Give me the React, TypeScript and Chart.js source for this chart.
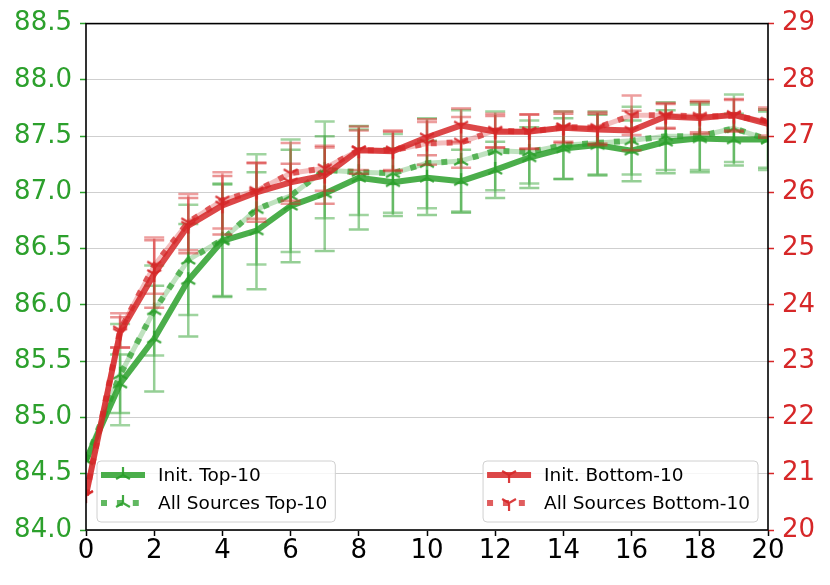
import React, { useEffect, useRef } from "react";
import { Chart, registerables } from "chart.js";
Chart.register(...registerables);

const xs = [0, 1, 2, 3, 4, 5, 6, 7, 8, 9, 10, 11, 12, 13, 14, 15, 16, 17, 18, 19, 20];
const xTicks = [0, 2, 4, 6, 8, 10, 12, 14, 16, 18, 20];

const initTop = [84.62, 85.30, 85.70, 86.22, 86.57, 86.66, 86.88, 86.99, 87.13, 87.09, 87.13, 87.10, 87.20, 87.31, 87.39, 87.42, 87.37, 87.45, 87.48, 87.47, 87.47];
const initTopErr = [0, 0.26, 0.47, 0.5, 0.5, 0.52, 0.5, 0.51, 0.46, 0.3, 0.33, 0.28, 0.25, 0.27, 0.27, 0.27, 0.27, 0.28, 0.3, 0.23, 0.25];
const allTop = [84.62, 85.38, 85.95, 86.40, 86.58, 86.85, 86.97, 87.20, 87.18, 87.17, 87.26, 87.28, 87.37, 87.36, 87.42, 87.44, 87.46, 87.50, 87.50, 87.57, 87.47];
const allTopErr = [0, 0.45, 0.4, 0.49, 0.5, 0.49, 0.5, 0.43, 0.38, 0.35, 0.4, 0.45, 0.35, 0.28, 0.3, 0.28, 0.3, 0.3, 0.3, 0.3, 0.27];
const initBot = [20.62, 23.51, 24.55, 25.41, 25.77, 26.0, 26.18, 26.30, 26.75, 26.73, 26.98, 27.19, 27.08, 27.08, 27.15, 27.12, 27.1, 27.35, 27.32, 27.38, 27.22];
const initBotErr = [0, 0.27, 0.6, 0.49, 0.52, 0.52, 0.33, 0.5, 0.42, 0.35, 0.32, 0.3, 0.28, 0.31, 0.25, 0.28, 0.35, 0.22, 0.28, 0.28, 0.25];
const allBot = [20.62, 23.55, 24.7, 25.47, 25.86, 26.03, 26.34, 26.43, 26.75, 26.75, 26.87, 26.89, 27.1, 27.08, 27.16, 27.15, 27.37, 27.37, 27.35, 27.36, 27.26];
const allBotErr = [0, 0.3, 0.5, 0.5, 0.5, 0.5, 0.54, 0.4, 0.35, 0.35, 0.38, 0.45, 0.3, 0.3, 0.28, 0.28, 0.35, 0.22, 0.28, 0.28, 0.25];

const leftTicks = [84.0, 84.5, 85.0, 85.5, 86.0, 86.5, 87.0, 87.5, 88.0, 88.5];
const rightTicks = [20, 21, 22, 23, 24, 25, 26, 27, 28, 29];

const legendLeft = ["Init. Top-10", "All Sources Top-10"];
const legendRight = ["Init. Bottom-10", "All Sources Bottom-10"];

const GREEN = "44,160,44";
const RED = "214,39,40";
const FONT = "'DejaVu Sans', sans-serif";
const LW = 6;
const DASH = [6, 9.9];

function drawTri(ctx: CanvasRenderingContext2D, cx: number, cy: number, down: boolean, color: string) {
  const r = 8;
  const c = Math.cos(Math.PI / 6) * r;
  const s = Math.sin(Math.PI / 6) * r;
  ctx.save();
  ctx.strokeStyle = color;
  ctx.lineWidth = 2.2;
  ctx.setLineDash([]);
  ctx.beginPath();
  if (!down) {
    ctx.moveTo(cx, cy); ctx.lineTo(cx, cy - r);
    ctx.moveTo(cx, cy); ctx.lineTo(cx - c, cy + s);
    ctx.moveTo(cx, cy); ctx.lineTo(cx + c, cy + s);
  } else {
    ctx.moveTo(cx, cy); ctx.lineTo(cx, cy + r);
    ctx.moveTo(cx, cy); ctx.lineTo(cx - c, cy - s);
    ctx.moveTo(cx, cy); ctx.lineTo(cx + c, cy - s);
  }
  ctx.stroke();
  ctx.restore();
}

function triMarker(color: string, down: boolean): HTMLCanvasElement {
  const c = document.createElement("canvas");
  c.width = 20; c.height = 20;
  const ctx = c.getContext("2d")!;
  drawTri(ctx, 10, 10, down, color);
  return c;
}

const toPts = (ys: number[]) => xs.map((x, i) => ({ x, y: ys[i] }));

const errorBarPlugin = {
  id: "errbars",
  afterDatasetDraw(chart: any, args: any) {
    const ds = chart.data.datasets[args.index];
    if (!ds.errors) return;
    const ys = chart.scales[ds.yAxisID];
    const xsScale = chart.scales.x;
    const ctx = chart.ctx as CanvasRenderingContext2D;
    const a = chart.chartArea;
    ctx.save();
    ctx.beginPath();
    ctx.rect(a.left, a.top, a.right - a.left, a.bottom - a.top);
    ctx.clip();
    ctx.strokeStyle = ds.errorColor;
    ctx.lineWidth = 2.5;
    ctx.setLineDash([]);
    ctx.beginPath();
    ds.data.forEach((p: any, i: number) => {
      const e = ds.errors[i];
      if (!e) return;
      const px = xsScale.getPixelForValue(p.x);
      const t = ys.getPixelForValue(p.y + e);
      const b = ys.getPixelForValue(p.y - e);
      ctx.moveTo(px, t); ctx.lineTo(px, b);
      ctx.moveTo(px - 10, t); ctx.lineTo(px + 10, t);
      ctx.moveTo(px - 10, b); ctx.lineTo(px + 10, b);
    });
    ctx.stroke();
    ctx.restore();
  },
};

function drawLegend(ctx: CanvasRenderingContext2D, x: number, y: number, labels: string[], rgb: string, down: boolean) {
  ctx.save();
  ctx.font = `18.5px ${FONT}`;
  const tw = Math.max(...labels.map((l) => ctx.measureText(l).width));
  const w = 61 + tw + 8;
  const h = 61;
  const r = 4;
  ctx.beginPath();
  ctx.moveTo(x + r, y);
  ctx.arcTo(x + w, y, x + w, y + h, r);
  ctx.arcTo(x + w, y + h, x, y + h, r);
  ctx.arcTo(x, y + h, x, y, r);
  ctx.arcTo(x, y, x + w, y, r);
  ctx.closePath();
  ctx.fillStyle = "rgba(255,255,255,0.8)";
  ctx.fill();
  ctx.strokeStyle = "#d0d0d0";
  ctx.lineWidth = 1;
  ctx.stroke();
  labels.forEach((lab, i) => {
    const ry = y + 14 + i * 28;
    ctx.save();
    ctx.lineWidth = LW;
    ctx.lineCap = "butt";
    if (i === 0) {
      ctx.strokeStyle = `rgba(${rgb},0.85)`;
      ctx.setLineDash([]);
    } else {
      ctx.strokeStyle = `rgba(${rgb},0.75)`;
      ctx.setLineDash(DASH);
    }
    ctx.beginPath();
    ctx.moveTo(x + 4, ry);
    ctx.lineTo(x + 48, ry);
    ctx.stroke();
    ctx.restore();
    drawTri(ctx, x + 26, ry, down, `rgba(${rgb},0.9)`);
    ctx.fillStyle = "#000";
    ctx.textBaseline = "middle";
    ctx.textAlign = "left";
    ctx.fillText(lab, x + 61, ry + 1);
  });
  ctx.restore();
}

const framePlugin = {
  id: "frameLegends",
  afterDraw(chart: any) {
    const ctx = chart.ctx as CanvasRenderingContext2D;
    const a = chart.chartArea;
    ctx.save();
    ctx.strokeStyle = "#000";
    ctx.lineWidth = 1.6;
    ctx.strokeRect(a.left, a.top, a.right - a.left, a.bottom - a.top);
    ctx.restore();
    drawLegend(ctx, a.left + 11, a.bottom - 69, legendLeft, GREEN, false);
    ctx.save();
    ctx.font = `18.5px ${FONT}`;
    const tw = Math.max(...legendRight.map((l) => ctx.measureText(l).width));
    ctx.restore();
    const w = 61 + tw + 8;
    drawLegend(ctx, a.right - 10 - w, a.bottom - 69, legendRight, RED, true);
  },
};

export default function App() {
  const ref = useRef<HTMLCanvasElement>(null);
  useEffect(() => {
    document.body.style.margin = "0";
    const gMark = triMarker(`rgba(${GREEN},0.9)`, false);
    const rMark = triMarker(`rgba(${RED},0.9)`, true);
    const chart = new Chart(ref.current!, {
      type: "line",
      data: {
        datasets: [
          {
            label: legendRight[0], data: toPts(initBot), yAxisID: "y2", order: 0,
            borderColor: `rgba(${RED},0.85)`, borderWidth: LW, pointStyle: rMark as any, pointRadius: 8,
            errors: initBotErr, errorColor: `rgba(${RED},0.5)`,
          } as any,
          {
            label: legendRight[1], data: toPts(allBot), yAxisID: "y2", order: 1,
            borderColor: `rgba(${RED},0.7)`, borderWidth: LW, borderDash: DASH, pointStyle: rMark as any, pointRadius: 8,
            errors: allBotErr, errorColor: `rgba(${RED},0.45)`,
          } as any,
          {
            label: "rf", data: toPts(allBot), yAxisID: "y2", order: 2,
            borderColor: `rgba(${RED},0.3)`, borderWidth: LW - 1, pointRadius: 0,
          } as any,
          {
            label: legendLeft[0], data: toPts(initTop), yAxisID: "y", order: 3,
            borderColor: `rgba(${GREEN},0.85)`, borderWidth: LW, pointStyle: gMark as any, pointRadius: 8,
            errors: initTopErr, errorColor: `rgba(${GREEN},0.5)`,
          } as any,
          {
            label: legendLeft[1], data: toPts(allTop), yAxisID: "y", order: 4,
            borderColor: `rgba(${GREEN},0.7)`, borderWidth: LW, borderDash: DASH, pointStyle: gMark as any, pointRadius: 8,
            errors: allTopErr, errorColor: `rgba(${GREEN},0.45)`,
          } as any,
          {
            label: "gf", data: toPts(allTop), yAxisID: "y", order: 5,
            borderColor: `rgba(${GREEN},0.3)`, borderWidth: LW - 1, pointRadius: 0,
          } as any,
        ],
      },
      options: {
        responsive: false,
        animation: false,
        events: [],
        layout: { padding: { top: 23, left: 0, right: 0, bottom: 0 } },
        elements: { line: { tension: 0, borderCapStyle: "butt", borderJoinStyle: "round" }, point: { hoverRadius: 8 } },
        plugins: { legend: { display: false }, tooltip: { enabled: false } },
        scales: {
          x: {
            type: "linear", min: 0, max: 20,
            afterFit: (s: any) => { s.height = 55; },
            afterBuildTicks: (s: any) => { s.ticks = xTicks.map((v) => ({ value: v })); },
            ticks: { color: "#000", font: { family: FONT, size: 26 }, padding: 0, maxRotation: 0, autoSkip: false, callback: (v: any) => String(v) },
            grid: { drawOnChartArea: false, drawTicks: true, tickLength: 6, tickColor: "#000", tickWidth: 1.5 },
            border: { display: false },
          },
          y: {
            type: "linear", position: "left", min: 84, max: 88.5,
            afterFit: (s: any) => { s.width = 86; },
            afterBuildTicks: (s: any) => { s.ticks = leftTicks.map((v) => ({ value: v })); },
            ticks: { color: `rgb(${GREEN})`, font: { family: FONT, size: 26 }, padding: 8, callback: (v: any) => Number(v).toFixed(1) },
            grid: { color: "#cfcfcf", lineWidth: 1, drawTicks: true, tickLength: 6, tickColor: `rgb(${GREEN})`, tickWidth: 1.5 },
            border: { display: false },
          },
          y2: {
            type: "linear", position: "right", min: 20, max: 29,
            afterFit: (s: any) => { s.width = 62; },
            afterBuildTicks: (s: any) => { s.ticks = rightTicks.map((v) => ({ value: v })); },
            ticks: { color: `rgb(${RED})`, font: { family: FONT, size: 26 }, padding: 8, callback: (v: any) => String(v) },
            grid: { drawOnChartArea: false, drawTicks: true, tickLength: 6, tickColor: `rgb(${RED})`, tickWidth: 1.5 },
            border: { display: false },
          },
        },
      } as any,
      plugins: [errorBarPlugin, framePlugin],
    });
    return () => chart.destroy();
  }, []);
  return (
    <div style={{ width: 830, height: 585 }}>
      <canvas ref={ref} width={830} height={585} />
    </div>
  );
}
